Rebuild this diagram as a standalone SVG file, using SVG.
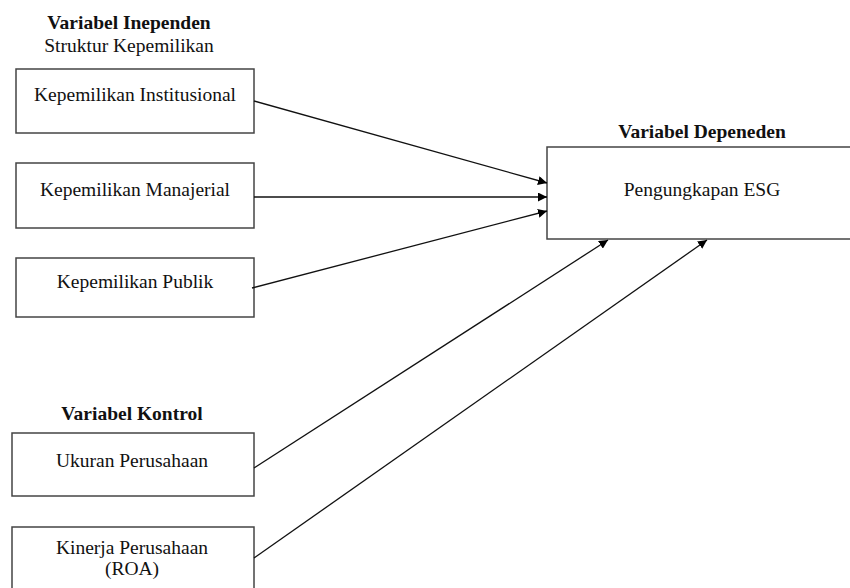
<svg xmlns="http://www.w3.org/2000/svg" width="850" height="588" viewBox="0 0 850 588">
<style>
text{font-family:"Liberation Serif","Times New Roman",serif;font-size:19.5px;fill:#111;text-anchor:middle}
.b{font-weight:bold}
.box{fill:#fff;stroke:#444;stroke-width:1.5}
.arr{stroke:#111;stroke-width:1.3;fill:none;marker-end:url(#ah)}
</style>
<defs>
<marker id="ah" viewBox="0 0 10 10" refX="10" refY="5" markerWidth="9" markerHeight="9" markerUnits="userSpaceOnUse" orient="auto">
<path d="M0,0 L10,5 L0,10 z" fill="#000"/>
</marker>
</defs>
<rect width="850" height="588" fill="#fff"/>
<g id="labels">
<text class="b" x="129" y="29">Variabel Inependen</text>
<text x="129" y="52">Struktur Kepemilikan</text>
<text class="b" x="702" y="138">Variabel Depeneden</text>
<text class="b" x="132" y="420">Variabel Kontrol</text>
</g>
<g id="n1"><rect class="box" x="16" y="69" width="238" height="64"/><text x="135" y="101">Kepemilikan Institusional</text></g>
<g id="n2"><rect class="box" x="16" y="163" width="238" height="65"/><text x="135" y="196">Kepemilikan Manajerial</text></g>
<g id="n3"><rect class="box" x="16" y="258" width="238" height="59"/><text x="135" y="288">Kepemilikan Publik</text></g>
<g id="n4"><rect class="box" x="12" y="433" width="242" height="63"/><text x="132" y="467">Ukuran Perusahaan</text></g>
<g id="n5"><rect class="box" x="12" y="527" width="242" height="70"/><text x="132" y="554">Kinerja Perusahaan</text><text x="132" y="575">(ROA)</text></g>
<g id="target"><rect class="box" x="547" y="147" width="310" height="92"/><text x="702" y="196">Pengungkapan ESG</text></g>
<g id="connectors">
<line class="arr" x1="254" y1="101" x2="547" y2="183"/>
<line class="arr" x1="254" y1="197" x2="547" y2="197"/>
<line class="arr" x1="252" y1="288" x2="547" y2="211"/>
<line class="arr" x1="254" y1="468" x2="608" y2="240"/>
<line class="arr" x1="254" y1="558" x2="707" y2="240"/>
</g>
</svg>
